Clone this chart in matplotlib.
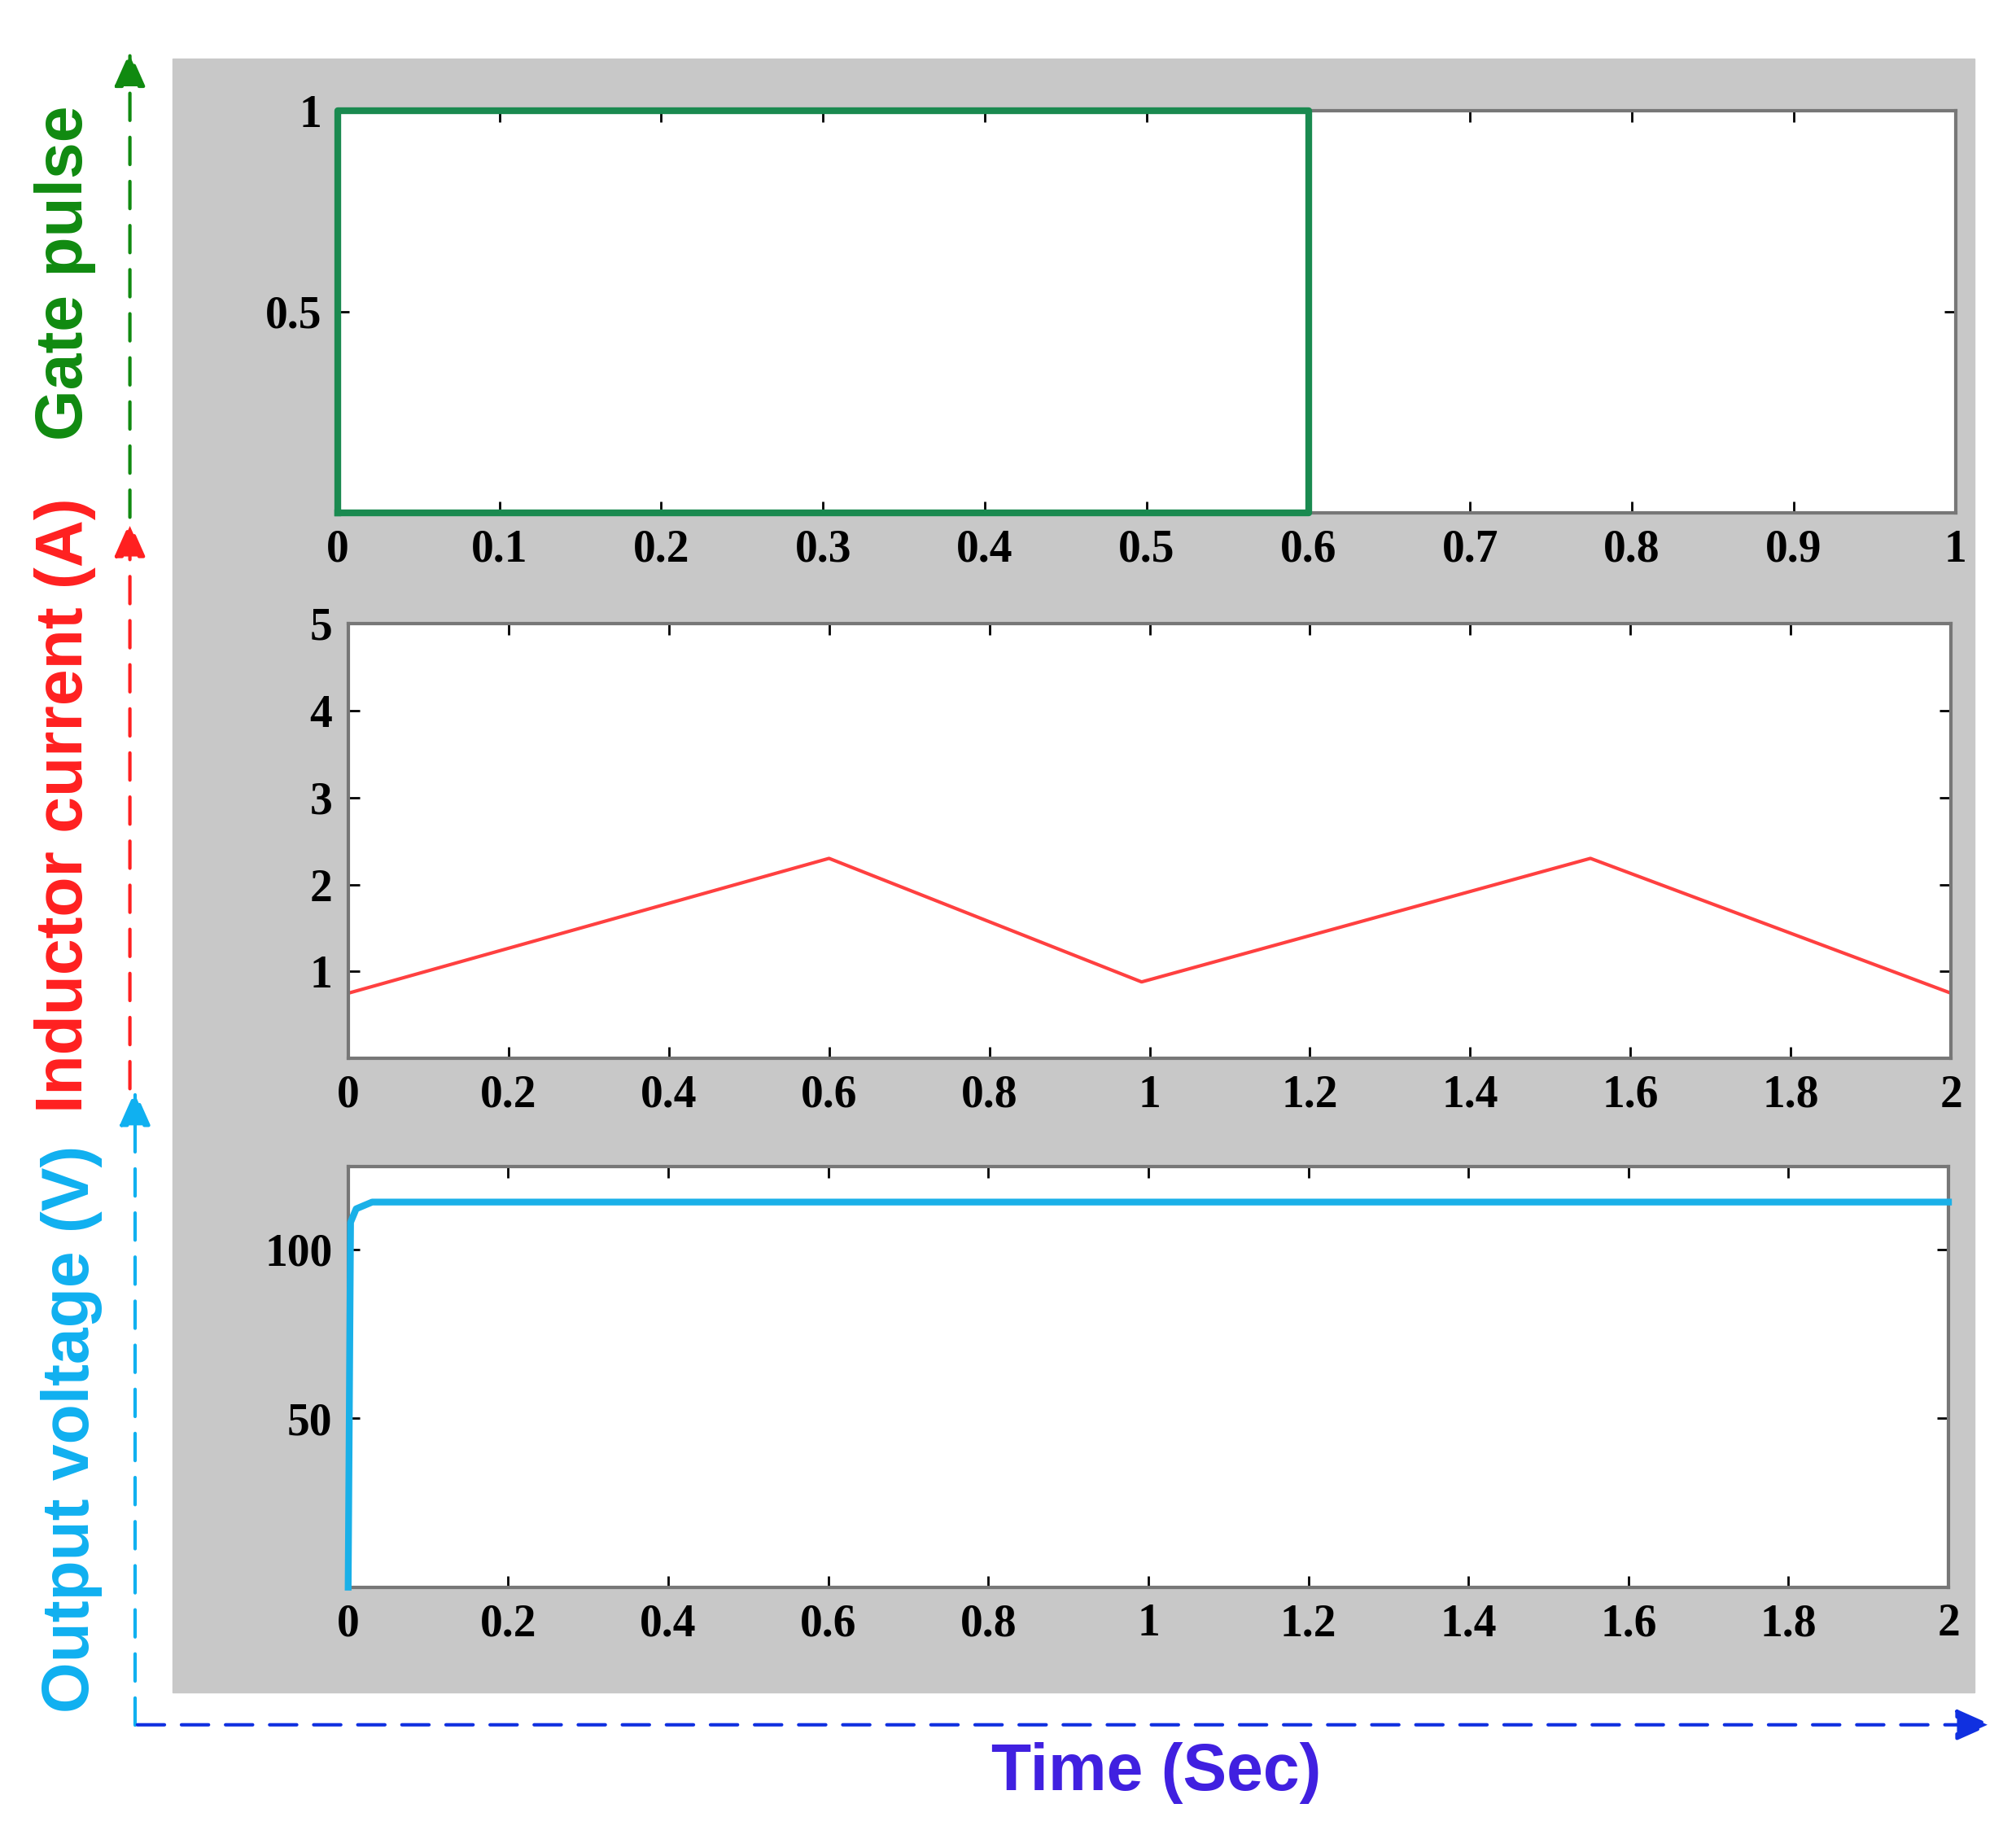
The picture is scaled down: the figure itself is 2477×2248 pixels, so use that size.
import matplotlib
matplotlib.use("Agg")
import matplotlib.pyplot as plt
from matplotlib.patches import Rectangle, FancyArrowPatch

gate_t = [0, 0, 0.6, 0.6, 0]
gate_v = [0, 1, 1, 0, 0]
cur_t = [0, 0.6, 0.99, 1.55, 2.0]
cur_v = [0.75, 2.3, 0.88, 2.3, 0.75]
volt_t = [0, 0.003, 0.01, 0.03, 2.0]
volt_v = [0, 108, 112, 114, 114]

fig = plt.figure(figsize=(24.77, 22.48), dpi=100)
H = 1409; W = 1552
fig.patches.append(Rectangle((133/W, 1-1303/H), (1520-133)/W, (1303-45)/H,
                             transform=fig.transFigure, color='#c8c8c8', zorder=-5))
tf = dict(family='Liberation Serif', weight='bold', size=40)

def mk(rect):
    ax = fig.add_axes(rect)
    ax.set_facecolor('white')
    ax.tick_params(direction='in', length=10, width=2, top=True, right=True, pad=14)
    for s in ax.spines.values():
        s.set_color('#777777'); s.set_linewidth(3)
    return ax

ax1 = mk([0.1675, 0.7197, 0.970-0.1675, 0.9397-0.7197])
ax1.plot(gate_t, gate_v, color='#1a8a50', lw=6, clip_on=False, zorder=5)
ax1.set_xlim(0, 1); ax1.set_ylim(0, 1.0)
ax1.set_xticks([0,0.1,0.2,0.3,0.4,0.5,0.6,0.7,0.8,0.9,1])
ax1.set_xticklabels(['0','0.1','0.2','0.3','0.4','0.5','0.6','0.7','0.8','0.9','1'], **tf)
ax1.set_yticks([0.5, 1]); ax1.set_yticklabels(['0.5','1'], **tf)

ax2 = mk([0.1727, 0.4216, 0.9678-0.1727, 0.6593-0.4216])
ax2.plot(cur_t, cur_v, color='#ff4040', lw=3)
ax2.set_xlim(0, 2); ax2.set_ylim(0, 5)
ax2.set_xticks([0,0.2,0.4,0.6,0.8,1,1.2,1.4,1.6,1.8,2])
ax2.set_xticklabels(['0','0.2','0.4','0.6','0.8','1','1.2','1.4','1.6','1.8','2'], **tf)
ax2.set_yticks([1,2,3,4,5]); ax2.set_yticklabels(['1','2','3','4','5'], **tf)

ax3 = mk([0.1727, 0.1327, 0.9665-0.1727, 0.3627-0.1327])
ax3.plot(volt_t, volt_v, color='#1ab0e8', lw=6, clip_on=False, zorder=5)
ax3.set_xlim(0, 2); ax3.set_ylim(0, 124.6)
ax3.set_xticks([0,0.2,0.4,0.6,0.8,1,1.2,1.4,1.6,1.8,2])
ax3.set_xticklabels(['0','0.2','0.4','0.6','0.8','1','1.2','1.4','1.6','1.8','2'], **tf)
ax3.set_yticks([50,100]); ax3.set_yticklabels(['50','100'], **tf)

def arrow(x0, y0, x1, y1, c):
    fig.patches.append(FancyArrowPatch((x0/W, 1-y0/H), (x1/W, 1-y1/H), transform=fig.transFigure,
                       arrowstyle='-|>,head_length=0.9,head_width=0.4', mutation_scale=30,
                       color=c, lw=3, linestyle=(0, (8, 5))))
arrow(100, 400, 100, 38, '#108a10')
arrow(100, 840, 100, 400, '#ff2020')
arrow(104, 1330, 104, 838, '#10b0f0')
arrow(104, 1328, 1535, 1328, '#1030e0')

lf = dict(family='Liberation Sans', weight='bold', size=58, rotation=90, ha='center', va='center')
fig.text(50/W, 1-210/H, 'Gate pulse', color='#108a10', **lf)
fig.text(50/W, 1-620/H, 'Inductor current (A)', color='#ff2020', **lf)
fig.text(55/W, 1-1100/H, 'Output voltage (V)', color='#10b0f0', **lf)
fig.text(890/W, 1-1365/H, 'Time (Sec)', color='#4020e0', family='Liberation Sans',
         weight='bold', size=58, ha='center', va='center')
fig.savefig('out.png', dpi=100)
